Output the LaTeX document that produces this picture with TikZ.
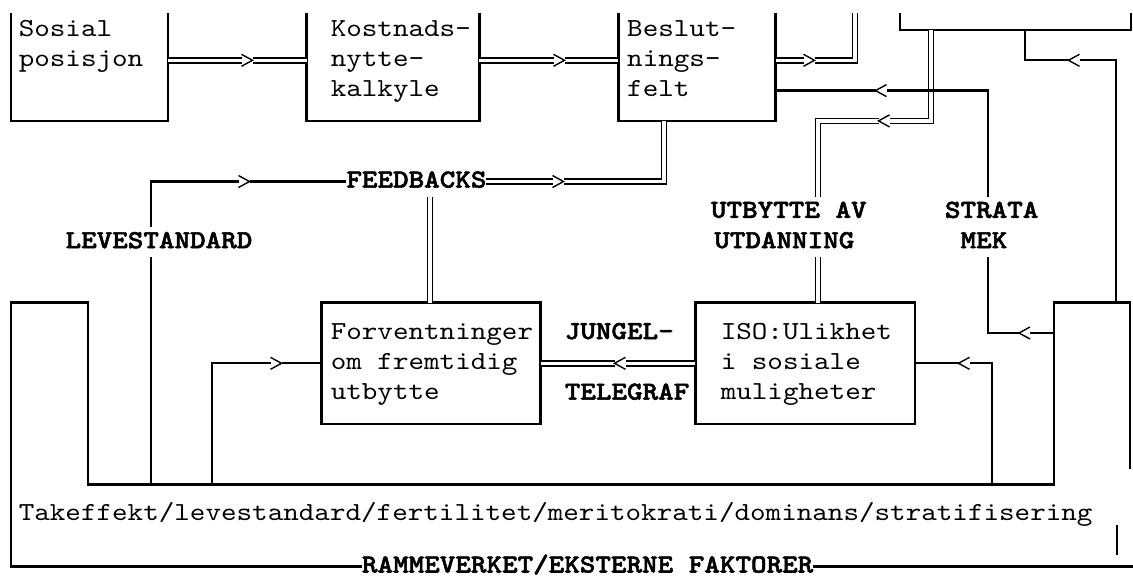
\documentclass[tikz,border=0pt]{standalone}
\usepackage{fontspec}
\newfontfamily\diagmono{lmmono10-regular}[Extension=.otf, BoldFont=lmmonolt10-bold, BoldFeatures={FakeBold=2}, FakeStretch=1.14]
\newcommand\diagfont{\diagmono\fontsize{26}{30.3}\selectfont\lineskiplimit=-30pt\relax}

\tikzset{
  panel/.style={rectangle, inner sep=0pt, outer sep=0pt},
  boxnode/.style={panel, draw, line width=2.8pt},
  side/.style={line width=2.8pt},
  txt/.style={font=\diagfont, align=left, inner sep=0pt, outer sep=0pt, anchor=west},
  lbl/.style={txt, font=\diagfont\bfseries},
  ln/.style={line width=2.3pt},
  frameline/.style={line width=2.6pt},
  dbl/.style={double, line width=1.5pt, double distance=3.4pt},
  pics/chevr/.style={code={\draw[line width=1.4pt] (-5.5,-6) -- (5.5,0) -- (-5.5,6);}},
  pics/chevl/.style={code={\draw[line width=1.4pt] (5.5,-6) -- (-5.5,0) -- (5.5,6);}},
}

\begin{document}
\begin{tikzpicture}[x=1pt, y=-1pt]
\useasboundingbox (0,0) rectangle (1133,579);
\fill[white] (0,0) rectangle (1133,579);
\clip (0,0) rectangle (1133,579);

% text rows
\coordinate (r0) at (0,30);
\coordinate (r1) at (0,60.3);
\coordinate (r2) at (0,90.6);
\coordinate (r3) at (0,120.9);
\coordinate (r11) at (0,363.3);

% upper boxes (their tops continue above the sheet)
\node[panel, minimum width=157pt, minimum height=107.9pt] (b1) at (89.5,66.95) {};
\node[panel, minimum width=172.7pt, minimum height=107.9pt] (b2) at (393.1,66.95) {};
\node[panel, minimum width=157.3pt, minimum height=107.9pt] (b3) at (696.9,66.95) {};
\foreach \b in {b1,b2,b3}
  \draw[side] (\b.north west) -- (\b.south west) -- (\b.south east) -- (\b.north east);

% lower boxes
\node[boxnode, minimum width=219.4pt, minimum height=121.2pt] (forv) at (430.9,363.3) {};
\node[boxnode, minimum width=219.8pt, minimum height=121.2pt] (iso) at (805.1,363.3) {};

% box texts
\node[txt] (t1) at (18.8,60.3) {\strut Sosial\\\strut posisjon\\\strut};
\node[txt] (t2) at (330.8,60.3) {\strut Kostnads-\\\strut nytte-\\\strut kalkyle};
\node[txt] (t3) at (627.2,60.3) {\strut Beslut-\\\strut nings-\\\strut felt};
\node[txt] (t4) at (330.8,363.3) {\strut Forventninger\\\strut om fremtidig\\\strut utbytte};
\node[txt] (t5) at (720.8,363.3) {\strut ISO:Ulikhet\\\strut i sosiale\\\strut muligheter};

% labels
\node[lbl] (feed) at (346.4,181.5) {\strut FEEDBACKS};
\node[lbl] (leve) at (65.6,242.1) {\strut LEVESTANDARD};
\node[lbl] (utb) at (711,226.95) {\strut UTBYTTE AV\\\hspace*{3.3pt}\strut UTDANNING};
\node[lbl] (strata) at (945,226.95) {\strut STRATA\\\hspace*{15.6pt}\strut MEK};
\node[lbl] (jungel) at (564.8,363.3) {\strut JUNGEL-\\\strut\\\strut TELEGRAF};
\node[txt] (take) at (18.8,514.8) {\strut Takeffekt/levestandard/fertilitet/meritokrati/dominans/stratifisering};
\node[lbl, anchor=base west] (ramm) at (362,572.5) {RAMMEVERKET/EKSTERNE FAKTORER};

% frame at the top right (continues above the sheet)
\coordinate (tfl) at (900,13);
\coordinate (tfr) at (1131,13);
\draw[frameline] (tfl) -- (tfl |- r0) -- (tfr |- r0) -- (tfr);

% outer frame with the right-hand box
\coordinate (fbl) at (11,566.5);
\coordinate (fbr) at (1140,566.5);
\coordinate (ftl) at (11,302.7);
\coordinate (fin) at (88,302.7);
\coordinate (fbase) at (88,484.5);
\coordinate (rbl) at (1054,484.5);
\coordinate (rtl) at (1054,302.7);
\coordinate (rtr) at (1130,302.7);
\coordinate (rbr) at (1130,469);
\draw[frameline] (fbr) -- (ramm.east |- fbr);
\draw[frameline] (ramm.west |- fbl) -- (fbl) -- (ftl) -- (fin) -- (fbase) -- (rbl) -- (rtl) -- (rtr) -- (rbr);
\draw[frameline] (1117,525) -- (1117,555);

% connector points
\coordinate (h1) at (247,60.3);
\coordinate (h2) at (559,60.3);
\coordinate (h3) at (809,60.3);
\coordinate (k3) at (855,60.3);
\coordinate (u3) at (855,13);
\coordinate (h4) at (558,181.5);
\coordinate (k4) at (664,181.5);
\coordinate (xq) at (430,0);
\coordinate (h8) at (620,363.3);
\coordinate (s10) at (931,30);
\coordinate (k10a) at (931,120.9);
\coordinate (h10) at (884,120.9);
\coordinate (k10b) at (818,120.9);
\coordinate (f5) at (151,484.5);
\coordinate (k5) at (151,181.5);
\coordinate (h5) at (244,181.5);
\coordinate (f7) at (212,484.5);
\coordinate (k7) at (212,363.3);
\coordinate (h7) at (276,363.3);
\coordinate (f9) at (992,484.5);
\coordinate (k9) at (992,363.3);
\coordinate (h9) at (964,363.3);
\coordinate (s11) at (1054,333);
\coordinate (h11a) at (1024.5,333);
\coordinate (k11a) at (988,333);
\coordinate (k11b) at (988,90.6);
\coordinate (h11b) at (881,90.6);
\coordinate (s12) at (1116,302.7);
\coordinate (k12a) at (1116,60.3);
\coordinate (h12) at (1074,60.3);
\coordinate (k12b) at (1025,60.3);
\coordinate (e12) at (1025,30);

% double connectors
\draw[dbl] (b1.east |- r1) -- ([xshift=-5.5pt]h1);
\draw[dbl] ([xshift=5.5pt]h1) -- (b2.west |- r1);
\draw[dbl] (b2.east |- r1) -- ([xshift=-5.5pt]h2);
\draw[dbl] ([xshift=5.5pt]h2) -- (b3.west |- r1);
\draw[dbl] (b3.east |- r1) -- ([xshift=-5.5pt]h3);
\draw[dbl] ([xshift=5.5pt]h3) -- (k3) -- (u3);
\draw[dbl] (feed.east) -- ([xshift=-5.5pt]h4);
\draw[dbl] ([xshift=5.5pt]h4) -- (k4) -- (k4 |- b3.south);
\draw[dbl] (forv.north -| xq) -- (feed.south -| xq);
\draw[dbl] (iso.west |- r11) -- ([xshift=5.5pt]h8);
\draw[dbl] ([xshift=-5.5pt]h8) -- (forv.east |- r11);
\draw[dbl] (s10) -- (k10a) -- ([xshift=5.5pt]h10);
\draw[dbl] ([xshift=-5.5pt]h10) -- (k10b) -- (utb.north -| k10b);
\draw[dbl] (utb.south -| k10b) -- (iso.north -| k10b);

% single connectors
\draw[ln] (f5) -- (leve.south -| f5);
\draw[ln] (leve.north -| f5) -- (k5) -- ([xshift=-5.5pt]h5);
\draw[ln] ([xshift=5.5pt]h5) -- (feed.west);
\draw[ln] (f7) -- (k7) -- ([xshift=-5.5pt]h7);
\draw[ln] ([xshift=5.5pt]h7) -- (forv.west |- r11);
\draw[ln] (f9) -- (k9) -- ([xshift=5.5pt]h9);
\draw[ln] ([xshift=-5.5pt]h9) -- (iso.east |- r11);
\draw[ln] (s11) -- ([xshift=5.5pt]h11a);
\draw[ln] ([xshift=-5.5pt]h11a) -- (k11a) -- (strata.south -| k11a);
\draw[ln] (strata.north -| k11a) -- (k11b) -- ([xshift=5.5pt]h11b);
\draw[ln] ([xshift=-5.5pt]h11b) -- (b3.east |- r2);
\draw[ln] (s12) -- (k12a) -- ([xshift=5.5pt]h12);
\draw[ln] ([xshift=-5.5pt]h12) -- (k12b) -- (e12);

% arrow marks
\foreach \p in {h1,h2,h3,h4,h5,h7} \pic at (\p) {chevr};
\foreach \p in {h8,h9,h10,h11a,h11b,h12} \pic at (\p) {chevl};
\end{tikzpicture}
\end{document}
